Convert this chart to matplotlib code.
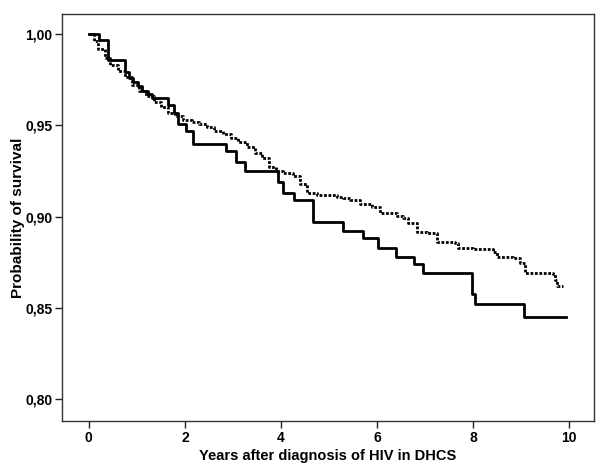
import matplotlib
matplotlib.use("Agg")
import matplotlib.pyplot as plt
from matplotlib import font_manager

# Solid curve (Kaplan-Meier steps)
solid_t = [0.0, 0.21, 0.39, 0.75, 0.83, 0.92, 1.02, 1.10, 1.23, 1.31, 1.65, 1.78,
           1.86, 2.03, 2.16, 2.85, 3.06, 3.25, 3.94, 4.04, 4.28, 4.66, 5.29, 5.71,
           6.02, 6.40, 6.77, 6.96, 7.98, 8.04, 9.06, 9.93]
solid_s = [1.000, 0.997, 0.986, 0.979, 0.976, 0.974, 0.9715, 0.969, 0.967, 0.965,
           0.961, 0.957, 0.951, 0.947, 0.940, 0.936, 0.930, 0.925, 0.919, 0.913,
           0.909, 0.897, 0.892, 0.888, 0.883, 0.878, 0.874, 0.869, 0.8575, 0.852,
           0.845, 0.845]

# Dotted curve
dot_t = [0.0, 0.1, 0.2, 0.33, 0.45, 0.6, 0.75, 0.9, 1.05, 1.2, 1.35, 1.5, 1.65,
         1.8, 1.95, 2.15, 2.3, 2.45, 2.6, 2.8, 2.95, 3.1, 3.3, 3.45, 3.6, 3.75,
         3.9, 4.05, 4.25, 4.4, 4.55, 4.75, 5.17, 5.3, 5.44, 5.65, 5.9, 6.06, 6.42,
         6.55, 6.65, 6.83, 7.04, 7.25, 7.63, 7.69, 8.0, 8.42, 8.5, 8.83, 8.98,
         9.08, 9.67, 9.71, 9.75, 9.88]
dot_s = [1.000, 0.996, 0.992, 0.987, 0.983, 0.980, 0.9765, 0.972, 0.969, 0.966,
         0.963, 0.960, 0.9565, 0.955, 0.953, 0.952, 0.951, 0.949, 0.947, 0.945,
         0.943, 0.941, 0.938, 0.935, 0.932, 0.927, 0.925, 0.924, 0.922, 0.918,
         0.913, 0.912, 0.911, 0.910, 0.909, 0.907, 0.905, 0.902, 0.9005, 0.899,
         0.8965, 0.8915, 0.891, 0.886, 0.8855, 0.883, 0.882, 0.8805, 0.878,
         0.8775, 0.8745, 0.869, 0.8685, 0.865, 0.862, 0.862]

x_ticks = [0, 2, 4, 6, 8, 10]
y_ticks = [0.80, 0.85, 0.90, 0.95, 1.00]
y_tick_labels = ["0,80", "0,85", "0,90", "0,95", "1,00"]

names = {f.name for f in font_manager.fontManager.ttflist}
fam = "Liberation Sans Narrow" if "Liberation Sans Narrow" in names else "Liberation Sans"
plt.rcParams['font.family'] = [fam, 'DejaVu Sans']

fig = plt.figure(figsize=(6.0, 4.76), dpi=100)
ax = fig.add_axes([0.1033, 0.1155, 0.8867, 0.8551])

ax.step(dot_t, dot_s, where='post', color='black', lw=2.0, linestyle=(0, (1.0, 0.6)))
ax.step(solid_t, solid_s, where='post', color='black', lw=2.0)

ax.set_xlim(-0.56, 10.52)
ax.set_ylim(0.788, 1.011)
ax.set_xticks(x_ticks)
ax.set_xticklabels([str(v) for v in x_ticks], fontweight='bold', fontsize=10)
ax.set_yticks(y_ticks)
ax.set_yticklabels(y_tick_labels, fontweight='bold', fontsize=10)
ax.tick_params(direction='out', length=5, width=1, colors='#222222', labelcolor='black', pad=2)
for sp in ax.spines.values():
    sp.set_linewidth(1.0)
    sp.set_color('#333333')

ax.set_xlabel("Years after diagnosis of HIV in DHCS", fontweight='bold', fontsize=10.5, labelpad=3)
ax.set_ylabel("Probability of survival", fontweight='bold', fontsize=11, labelpad=0)

fig.savefig("out.png", dpi=100)
